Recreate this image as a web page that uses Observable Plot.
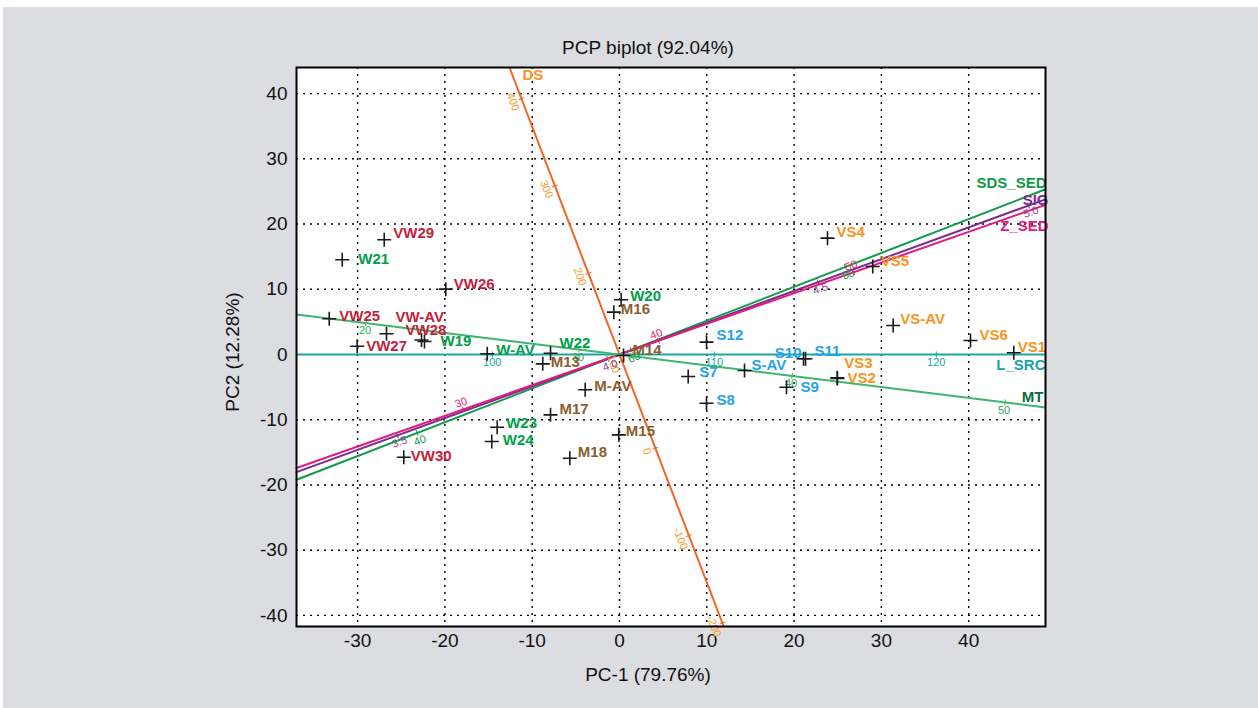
<!DOCTYPE html>
<html><head><meta charset="utf-8">
<script src="https://cdn.jsdelivr.net/npm/d3@7"></script>
<script src="https://cdn.jsdelivr.net/npm/@observablehq/plot@0.6"></script>
<style>
html,body{margin:0;padding:0;background:#fff;overflow:hidden}
#bg{position:absolute;left:3px;top:7px;width:1255px;height:701px;background:#dcdde0}
#chart{position:absolute;left:0;top:0}
</style></head><body><div id="bg"></div><div id="chart"></div>
<script>
// ---------- data ----------
const sampleNames = ["VW25","VW26","VW27","VW28","VW29","VW30","VW-AV",
  "W19","W20","W21","W22","W23","W24","W-AV",
  "M13","M14","M15","M16","M17","M18","M-AV",
  "S7","S8","S9","S10","S11","S12","S-AV",
  "VS1","VS2","VS3","VS4","VS5","VS6","VS-AV"];
const samplePC1 = [-33.25,-19.90,-30.05,-22.68,-26.95,-24.71,-26.69,
  -22.34,0.19,-31.76,-7.90,-14.01,-14.63,-15.15,
  -8.79,0.46,-0.08,-0.65,-7.90,-5.69,-3.93,
  7.87,9.97,19.13,21.08,21.31,9.97,14.32,
  45.17,24.97,24.94,23.83,29.01,40.21,31.35];
const samplePC2 = [5.48,10.02,1.27,2.22,17.59,-15.75,3.17,
  1.99,8.39,14.52,0.20,-11.15,-13.34,0.11,
  -1.43,-0.15,-12.32,6.49,-9.25,-15.90,-5.41,
  -3.37,-7.47,-5.02,-0.66,-0.66,1.89,-2.45,
  0.26,-3.68,-3.57,17.84,13.50,2.15,4.45];
const sampleGroups = ["VW","VW","VW","VW","VW","VW","VW",
  "W","W","W","W","W","W","W",
  "M","M","M","M","M","M","M",
  "S","S","S","S","S","S","S",
  "VS","VS","VS","VS","VS","VS","VS"];

// calibrated biplot axes: value at the origin and displacement per unit
const varNames  = ["DS","SDS_SED","SIG","Z_SED","L_SRC","MT"];
const varCenter = [107.2, 58.9, 4.028, 38.0, 105.73, 31.9];
const varStepX  = [-0.03837, 1.2266, 48.2, 2.236, 2.543, 2.44];
const varStepY  = [0.1340, 0.6366, 23.49, 1.051, 0, -0.4055];
const varTicks  = [[400,300,200,100,0,-100,-200],[40,60,80],[3.5,4.0,4.5,5.0],[30,40,50],[100,110,120],[20,30,40,50]];

const xTicks = [-30,-20,-10,0,10,20,30,40];
const yTicks = [-40,-30,-20,-10,0,10,20,30,40];

const titleText = "PCP biplot (92.04%)";
const xTitle = "PC-1 (79.76%)";
const yTitle = "PC2 (12.28%)";

// ---------- styles / layout ----------
const groupColor = {VW:"#c41e3a", W:"#00a04a", M:"#8b5d2e", S:"#1fa3e8", VS:"#f7941d"};
const varStyle = {
  DS:      {line:"#f26522", tick:"#f7a030", name:"#f7941d", side:-1, off:9, rot:true,  ndx:13, ndy:8,  anchor:"start"},
  SDS_SED: {line:"#109a4a", tick:"#129a4c", name:"#0f9b48", side:1,  off:8, rot:true,  ndx:1,  ndy:-6, anchor:"end"},
  SIG:     {line:"#7b2d8e", tick:"#8e3c9e", name:"#7b2d8e", side:1,  off:7, rot:true,  ndx:3,  ndy:1,  anchor:"end"},
  Z_SED:   {line:"#e6197b", tick:"#e8237f", name:"#e6197b", side:-1, off:7, rot:true,  ndx:3,  ndy:21, anchor:"end"},
  L_SRC:   {line:"#1aa5a8", tick:"#1aa5a8", name:"#17a3a8", side:1,  off:8, rot:false, ndx:0,  ndy:11, anchor:"end"},
  MT:      {line:"#3db56b", tick:"#2ea85a", name:"#0b6b3a", side:1,  off:8, rot:false, ndx:-2, ndy:-10,anchor:"end"}
};
const labelNudge = {
  "W21":[16,-1],"VW-AV":[9,-17],"VW28":[-16,-10],"W19":[16,0],"VW25":[10,-3],"VW27":[9,0],
  "W22":[9,-10],"M13":[8,-2],"W24":[11,-1],"S9":[14,0],"VS3":[7,-15],"VS2":[10,0],
  "S10":[-2,-6],"S11":[9,-8],"VS1":[4,-6],"VW29":[9,-7],"S12":[10,-7],"M17":[9,-6],
  "M18":[8,-6],"VW30":[7,-1],"M16":[7,-3],"M14":[9,-5],"VS4":[9,-6],"S7":[11,-4],
  "S8":[10,-3],"S-AV":[7,-5],"VW26":[8,-5],"M15":[7,-4],"VS6":[9,-5],"VS5":[8,-5],"VS-AV":[7,-6]
};
const W=1258, H=708, mL=296, mR=213, mT=67, mB=82;
const xDom=[-37,48.8], yDom=[-41.7,44];
const kx=(W-mL-mR)/(xDom[1]-xDom[0]), ky=(H-mT-mB)/(yDom[1]-yDom[0]);
const axisFont = "'Liberation Sans',Arial,Helvetica,sans-serif";
const labelFont = "'Liberation Sans',Arial,Helvetica,sans-serif";

// ---------- build tables ----------
const samples = sampleNames.map((n,i)=>{
  const nd = labelNudge[n] || [9,-4];
  return {name:n, x:samplePC1[i], y:samplePC2[i], group:sampleGroups[i], dx:nd[0], dy:nd[1],
          anchor: n==="S10" ? "end" : "start"};
});

const lineMarks = [], tickMarks = [], tickLabelMarks = [], nameMarks = [];
varNames.forEach((name,i)=>{
  const st = varStyle[name];
  const sx = varStepX[i], sy = varStepY[i], c = varCenter[i];
  let tlo=-Infinity, thi=Infinity;
  [[sx,xDom],[sy,yDom]].forEach(([s,d])=>{
    if (s!==0){ const a=d[0]/s, b=d[1]/s; tlo=Math.max(tlo,Math.min(a,b)); thi=Math.min(thi,Math.max(a,b)); }
  });
  const seg=[{x:tlo*sx,y:tlo*sy},{x:thi*sx,y:thi*sy}];
  lineMarks.push(Plot.line(seg,{x:"x",y:"y",stroke:st.line,strokeWidth:2}));
  let ux=sx*kx, uy=-sy*ky; const L=Math.hypot(ux,uy); ux/=L; uy/=L;
  const nx=-uy, ny=ux;
  const toData=(px,py)=>[px/kx,-py/ky];
  const ticks = varTicks[i].map(v=>{
    const t=v-c, x=t*sx, y=t*sy;
    const [hx,hy]=toData(nx*3,ny*3);
    const [ox,oy]=toData(nx*st.off*st.side, ny*st.off*st.side);
    return {v, x1:x-hx,y1:y-hy,x2:x+hx,y2:y+hy, lx:x+ox, ly:y+oy};
  });
  tickMarks.push(Plot.link(ticks,{x1:"x1",y1:"y1",x2:"x2",y2:"y2",stroke:st.line,strokeWidth:1}));
  let ang=Math.atan2(uy,ux)*180/Math.PI; if(ang>90)ang-=180; if(ang<=-90)ang+=180;
  tickLabelMarks.push(Plot.text(ticks,{x:"lx",y:"ly",text:d=>name==="SIG"?d.v.toFixed(1):String(d.v),
    fill:st.tick,fontSize:11,fontFamily:labelFont,rotate:st.rot?ang:0,textAnchor:"middle"}));
  nameMarks.push(Plot.text([{x:thi*sx,y:thi*sy,t:name}],{x:"x",y:"y",text:"t",fill:st.name,
    fontSize:15,fontWeight:"bold",fontFamily:labelFont,dx:st.ndx,dy:st.ndy,textAnchor:st.anchor}));
});

const crossSymbol = {draw(ctx,size){const r=Math.sqrt(size/Math.PI);ctx.moveTo(-r,0);ctx.lineTo(r,0);ctx.moveTo(0,-r);ctx.lineTo(0,r);}};

const labelMarks = [];
samples.forEach(s=>{
  labelMarks.push(Plot.text([s],{x:"x",y:"y",text:"name",fill:groupColor[s.group],fontSize:15,
    fontWeight:"bold",fontFamily:labelFont,dx:s.dx,dy:s.dy,textAnchor:s.anchor}));
});

const chart = Plot.plot({
  width:W, height:H, marginLeft:mL, marginRight:mR, marginTop:mT, marginBottom:mB,
  x:{domain:xDom, ticks:xTicks, tickSize:0, tickPadding:7, label:null, tickFormat:d=>String(d)},
  y:{domain:yDom, ticks:yTicks, tickSize:0, tickPadding:9, label:null, tickFormat:d=>String(d)},
  style:{background:"transparent", fontFamily:axisFont, fontSize:"19px", color:"#111", overflow:"visible"},
  marks:[
    Plot.frame({fill:"white", stroke:"none"}),
    Plot.ruleX(xTicks,{stroke:"#000",strokeDasharray:"2,5",strokeWidth:1.4}),
    Plot.ruleY(yTicks.filter(v=>v!==0),{stroke:"#000",strokeDasharray:"2,5",strokeWidth:1.4}),
    ...lineMarks, ...tickMarks, ...tickLabelMarks,
    Plot.dot(samples,{x:"x",y:"y",symbol:crossSymbol,r:7,stroke:"#1a1a1a",strokeWidth:1.6,fill:"none"}),
    ...labelMarks, ...nameMarks,
    Plot.frame({stroke:"#000", strokeWidth:2})
  ]
});
document.getElementById("chart").appendChild(chart);

const svg = d3.select(chart);
const addText=(t,x,y,rot)=>{
  const el=svg.append("text").attr("text-anchor","middle").attr("dominant-baseline","central")
    .attr("font-family",axisFont).attr("font-size",19).attr("fill","#111").text(t);
  if(rot) el.attr("transform",`translate(${x},${y}) rotate(${rot})`); else el.attr("x",x).attr("y",y);
};
addText(titleText,648,47,0);
addText(xTitle,648,674,0);
addText(yTitle,232,352,-90);
</script></body></html>
